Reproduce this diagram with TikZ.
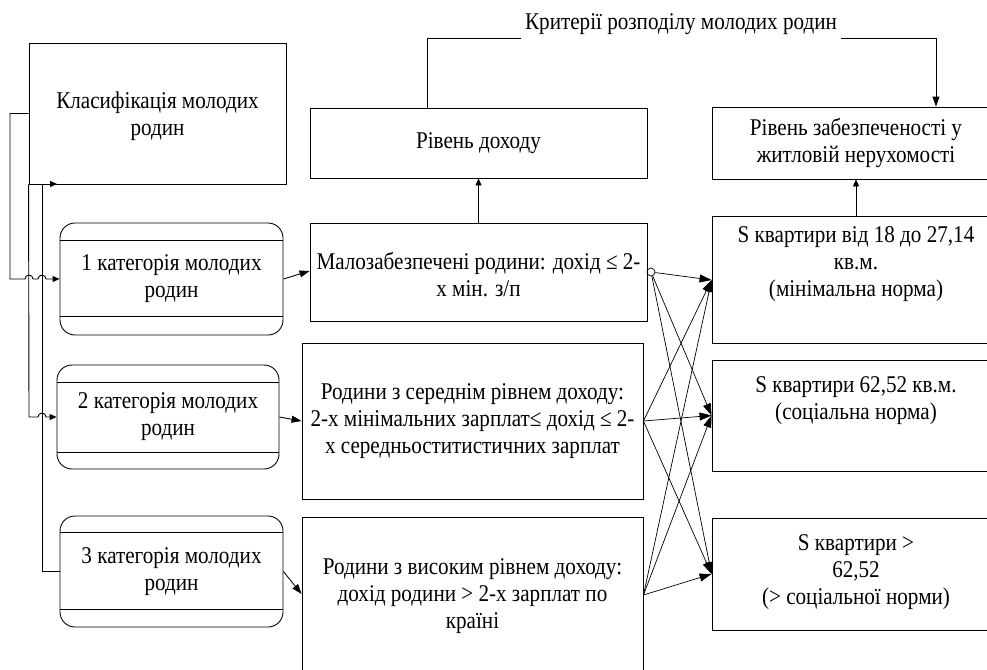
\documentclass[tikz,border=0pt]{standalone}
\usepackage{fontspec}
\setmainfont{Liberation Serif}[FakeStretch=0.88]
\usetikzlibrary{arrows.meta,calc}
\begin{document}
\begin{tikzpicture}[x=1pt,y=-1pt,
  line width=0.9pt,
  txt/.style={font=\fontsize{24}{27}\selectfont, align=center, inner sep=0pt},
  box/.style={draw, inner sep=0pt, font=\fontsize{24}{27}\selectfont, align=center},
  catbox/.style={box, rounded corners=15pt},
  arr/.style={-{Triangle[length=10pt,width=7pt]}},
  xarr/.style={-{Triangle[length=12pt,width=8pt]}, line width=0.7pt},
  sarr/.style={-{Triangle[length=7pt,width=6pt]}}]
\useasboundingbox (0,0) rectangle (987,669);
\fill[white] (0,0) rectangle (987,669);
\clip (0,0) rectangle (987,669);

% boxes
\node[box, minimum width=257pt, minimum height=141pt] (classif) at (157.5,113.5) {};
\node[txt] (classift) at (157.5,116) {Класифікація молодих\\родин};
\node[box, minimum width=337pt, minimum height=70pt] (dohid) at (478.5,143) {Рівень доходу};
\node[box, minimum width=288pt, minimum height=72pt] (zabezp) at (856,143) {Рівень забезпеченості у\\житловій нерухомості};
\node[box, minimum width=337pt, minimum height=98pt] (malo) at (478.5,272) {};
\node[txt] (malot) at (478.5,275) {Малозабезпечені родини: дохід ≤ 2-\\х мін. з/п};
\node[box, minimum width=341pt, minimum height=156pt] (mid2) at (472.5,421) {};
\node[txt] (mid2t) at (472.5,421) {Родини з середнім рівнем доходу:\\2-х мінімальних зарплат≤ дохід ≤ 2-\\х середньоститистичних зарплат};
\node[box, minimum width=341pt, minimum height=206pt] (mid3) at (472.5,620) {};
\node[txt] (mid3t) at (472.5,596) {Родини з високим рівнем доходу:\\дохід родини > 2-х зарплат по\\країні};
\node[box, minimum width=288pt, minimum height=127pt] (s1) at (856,280) {};
\node[txt] (s1t) at (856,264) {S квартири від 18 до 27,14\\кв.м.\\(мінімальна норма)};
\node[box, minimum width=288pt, minimum height=111pt] (s2) at (856,415.5) {};
\node[txt] (s2t) at (856,401) {S квартири 62,52 кв.м.\\(соціальна норма)};
\node[box, minimum width=288pt, minimum height=112pt] (s3) at (856,574) {};
\node[txt] (s3t) at (856,572) {S квартири >\\62,52\\(> соціальної норми)};

\node[catbox, minimum width=223pt, minimum height=112pt] (cat1) at (171.5,279) {1 категорія молодих\\родин};
\node[catbox, minimum width=222pt, minimum height=104pt] (cat2) at (168,417) {2 категорія молодих\\родин};
\node[catbox, minimum width=223pt, minimum height=111pt] (cat3) at (171.5,571.5) {3 категорія молодих\\родин};
\foreach \c/\a/\b in {cat1/18/19, cat2/18/17, cat3/17/18}{
  \draw ([yshift=-\a pt]\c.north west) -- ([yshift=-\a pt]\c.north east);
  \draw ([yshift=\b pt]\c.south west) -- ([yshift=\b pt]\c.south east);
}

% title and top connector
\node[txt] (title) at (681,24) {Критерії розподілу молодих родин};
\coordinate (tl) at (521,38);
\coordinate (tr) at (841,38);
\draw ([xshift=-51pt]dohid.north) |- (tl);
\draw[arr] (tr) -| ([xshift=80pt]zabezp.north);

% vertical arrows
\draw[sarr] (malo.north) -- (dohid.south);
\draw[sarr] (s1.north) -- (s1.north |- zabezp.south);

% left connectors with hops
\coordinate (bk) at (57,184);
\draw[sarr] (classif.west) -| (10,279) -- (25,279)
  arc[start angle=180,end angle=0,radius=4pt] -- (38,279)
  arc[start angle=180,end angle=0,radius=4pt] -- (cat1.west);
\draw[sarr] (classif.south west) -- (29,417) -- (38,417)
  arc[start angle=180,end angle=0,radius=4pt] -- (cat2.west);
\draw[sarr] (cat3.west) -| (42,184) -- (bk);

% category -> income arrows
\draw[arr] (cat1.east) -- ([yshift=1pt]malo.west);
\draw[arr] (cat2.east) -- (mid2.west);
\draw[arr] (cat3.east) -- ([yshift=26pt]mid3.west);

% crossing arrows
\node[circle, draw, line width=0.7pt, inner sep=0pt, minimum size=8pt] (A) at (651,272) {};
\coordinate (B) at (mid2.east);
\coordinate (C) at ([yshift=25pt]mid3.east);
\foreach \s in {A,B,C}{
  \foreach \t in {s1,s2,s3}{
    \draw[xarr] (\s) -- (\t.west);
  }
}
\end{tikzpicture}
\end{document}
